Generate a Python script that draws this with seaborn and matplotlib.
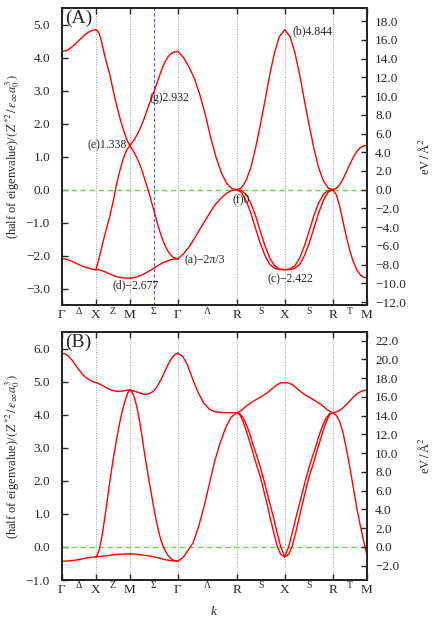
import numpy as np
import pandas as pd
import matplotlib
matplotlib.use('Agg')
import matplotlib.pyplot as plt
import seaborn as sns

# high-symmetry path of the simple cubic zone, k in units of 2pi/a
sym_k = [0.0, 0.5, 1.0, 1.7071, 2.5731, 3.2802, 3.9873, 4.4873]
sym_labels = ['Γ', 'X', 'M', 'Γ', 'R', 'X', 'R', 'M']
seg_labels = ['Δ', 'Z', 'Σ', 'Λ', 'S', 'S', 'T']
to_ev = 3.525  # eV/Å^2 per unit of Z*^2/(eps a0^3)

# k grids per segment
k_gx = [0.0, 0.05, 0.1, 0.15, 0.2, 0.25, 0.3, 0.35, 0.4, 0.45, 0.5]
k_xm = [0.5, 0.525, 0.55, 0.575, 0.6, 0.625, 0.65, 0.675, 0.7, 0.725, 0.75, 0.775, 0.8, 0.825,
        0.85, 0.875, 0.9, 0.925, 0.95, 0.975, 1.0]
k_mg = [1.0, 1.035, 1.07, 1.105, 1.14, 1.175, 1.21, 1.245, 1.28, 1.315, 1.35, 1.385, 1.42, 1.455,
        1.49, 1.525, 1.56, 1.595, 1.63, 1.67, 1.7071]
k_gr = [1.7071, 1.79, 1.87, 1.95, 2.03, 2.11, 2.19, 2.27, 2.35, 2.43, 2.50, 2.5731]
k_rx = [2.5731, 2.64, 2.71, 2.78, 2.85, 2.92, 2.99, 3.06, 3.13, 3.20, 3.2802]
k_xr = [3.2802, 3.3604, 3.4304, 3.5004, 3.5704, 3.6404, 3.7104, 3.7804, 3.8504, 3.9204, 3.9873]
k_rm = [3.9873, 4.04, 4.09, 4.14, 4.19, 4.24, 4.29, 4.34, 4.39, 4.44, 4.4873]

kb_gr = [1.7071, 1.78, 1.85, 1.93, 2.01, 2.09, 2.17, 2.25, 2.33, 2.41, 2.49, 2.5731]
kb_rx = [2.5731, 2.62, 2.67, 2.72, 2.77, 2.82, 2.87, 2.92, 2.97, 3.02, 3.07, 3.12, 3.17, 3.22, 3.2802]
kb_xr = [3.2802, 3.3404, 3.3904, 3.4404, 3.4904, 3.5404, 3.5904, 3.6404, 3.6904, 3.7404, 3.7904,
         3.8404, 3.8904, 3.9404, 3.9873]

# ---- panel (A)
a_gx_top = [4.189, 4.20, 4.25, 4.33, 4.42, 4.52, 4.62, 4.71, 4.78, 4.83, 4.844]
a_gx_low = [-2.094, -2.10, -2.13, -2.17, -2.22, -2.27, -2.31, -2.35, -2.38, -2.41, -2.422]
a_xm_top = [4.844, 4.81, 4.72, 4.56, 4.33, 4.11, 3.90, 3.71, 3.53, 3.29, 3.05, 2.82, 2.60, 2.40,
            2.20, 2.02, 1.85, 1.70, 1.55, 1.43, 1.338]
a_xm_mid = [-2.422, -2.24, -2.05, -1.84, -1.62, -1.42, -1.22, -1.03, -0.85, -0.62, -0.40, -0.14,
            0.12, 0.34, 0.55, 0.74, 0.92, 1.06, 1.18, 1.27, 1.338]
a_xm_low = [-2.422, -2.424, -2.43, -2.443, -2.46, -2.48, -2.50, -2.525, -2.55, -2.57, -2.59, -2.61,
            -2.63, -2.643, -2.655, -2.663, -2.67, -2.674, -2.676, -2.677, -2.677]
a_mg_up = [1.338, 1.43, 1.53, 1.66, 1.80, 1.97, 2.15, 2.36, 2.57, 2.75, 2.93, 3.14, 3.35, 3.56,
           3.75, 3.90, 4.02, 4.10, 4.15, 4.18, 4.189]
a_mg_dn = [1.338, 1.23, 1.10, 0.96, 0.80, 0.60, 0.38, 0.15, -0.08, -0.34, -0.60, -0.86, -1.12,
           -1.35, -1.55, -1.72, -1.86, -1.96, -2.03, -2.08, -2.094]
a_mg_low = [-2.677, -2.672, -2.66, -2.64, -2.61, -2.58, -2.55, -2.51, -2.47, -2.425, -2.38, -2.335,
            -2.29, -2.25, -2.21, -2.18, -2.15, -2.13, -2.11, -2.098, -2.094]
a_gr_top = [4.189, 4.00, 3.72, 3.37, 2.88, 2.28, 1.58, 0.98, 0.50, 0.18, 0.04, 0.0]
a_gr_low = [-2.094, -1.94, -1.74, -1.48, -1.20, -0.93, -0.66, -0.42, -0.24, -0.10, -0.02, 0.0]
a_rx_top = [0.0, 0.05, 0.27, 0.66, 1.25, 1.95, 2.70, 3.48, 4.15, 4.63, 4.844]
a_rx_l1 = [0.0, -0.07, -0.32, -0.70, -1.17, -1.62, -2.00, -2.26, -2.38, -2.415, -2.422]
a_rx_l2 = [0.0, -0.02, -0.14, -0.40, -0.78, -1.25, -1.70, -2.07, -2.30, -2.40, -2.422]
a_xr_top = [4.844, 4.63, 4.15, 3.48, 2.70, 1.95, 1.25, 0.66, 0.27, 0.05, 0.0]
a_xr_l1 = [-2.422, -2.415, -2.38, -2.26, -2.00, -1.62, -1.17, -0.70, -0.32, -0.07, 0.0]
a_xr_l2 = [-2.422, -2.40, -2.30, -2.07, -1.70, -1.25, -0.78, -0.40, -0.14, -0.02, 0.0]
a_rm_up = [0.0, 0.04, 0.15, 0.33, 0.55, 0.77, 0.98, 1.15, 1.27, 1.33, 1.338]
a_rm_dn = [0.0, -0.15, -0.50, -0.98, -1.45, -1.85, -2.18, -2.42, -2.57, -2.65, -2.677]

# ---- panel (B)
b_gx_top = [5.86, 5.84, 5.76, 5.65, 5.50, 5.36, 5.23, 5.13, 5.06, 5.00, 4.97]
b_gx_low = [-0.43, -0.43, -0.42, -0.41, -0.40, -0.38, -0.36, -0.34, -0.32, -0.31, -0.30]
b_xm_top = [4.97, 4.955, 4.93, 4.905, 4.88, 4.85, 4.82, 4.795, 4.77, 4.75, 4.73, 4.72, 4.71, 4.705,
            4.71, 4.715, 4.72, 4.73, 4.74, 4.745, 4.75]
b_xm_mid = [-0.30, -0.22, -0.08, 0.17, 0.45, 0.80, 1.15, 1.52, 1.90, 2.25, 2.60, 2.90, 3.20, 3.48,
            3.75, 3.99, 4.20, 4.39, 4.55, 4.68, 4.75]
b_xm_low = [-0.30, -0.295, -0.29, -0.285, -0.28, -0.275, -0.27, -0.262, -0.255, -0.247, -0.24,
            -0.235, -0.23, -0.225, -0.22, -0.217, -0.215, -0.212, -0.21, -0.21, -0.21]
b_mg_up = [4.75, 4.73, 4.71, 4.685, 4.66, 4.64, 4.62, 4.615, 4.64, 4.67, 4.72, 4.80, 4.92, 5.05,
           5.20, 5.35, 5.50, 5.64, 5.75, 5.83, 5.86]
b_mg_dn = [4.75, 4.68, 4.50, 4.22, 3.85, 3.40, 2.92, 2.47, 2.03, 1.62, 1.22, 0.84, 0.50, 0.22,
           0.02, -0.13, -0.25, -0.33, -0.39, -0.42, -0.43]
b_mg_low = [-0.21, -0.212, -0.215, -0.22, -0.23, -0.24, -0.25, -0.26, -0.27, -0.285, -0.30, -0.315,
            -0.33, -0.35, -0.37, -0.385, -0.40, -0.41, -0.42, -0.427, -0.43]
b_gr_top = [5.86, 5.76, 5.50, 5.05, 4.65, 4.35, 4.17, 4.09, 4.07, 4.06, 4.06, 4.06]
b_gr_low = [-0.43, -0.33, -0.12, 0.12, 0.60, 1.20, 1.90, 2.60, 3.15, 3.60, 3.92, 4.06]
b_rx_top = [4.06, 4.10, 4.18, 4.27, 4.34, 4.41, 4.47, 4.53, 4.59, 4.66, 4.74, 4.83, 4.91, 4.96, 4.97]
b_rx_l1 = [4.06, 4.00, 3.78, 3.48, 3.14, 2.80, 2.45, 2.13, 1.72, 1.30, 0.85, 0.42, 0.02, -0.22, -0.30]
b_rx_l2 = [4.06, 4.03, 3.90, 3.68, 3.40, 3.05, 2.75, 2.42, 2.05, 1.65, 1.25, 0.85, 0.42, 0.02, -0.30]
b_xr_top = [4.97, 4.96, 4.91, 4.83, 4.74, 4.66, 4.59, 4.53, 4.47, 4.41, 4.34, 4.27, 4.18, 4.10, 4.06]
b_xr_l1 = [-0.30, -0.22, 0.02, 0.42, 0.85, 1.30, 1.72, 2.13, 2.45, 2.80, 3.14, 3.48, 3.78, 4.00, 4.06]
b_xr_l2 = [-0.30, 0.02, 0.42, 0.85, 1.25, 1.65, 2.05, 2.42, 2.75, 3.05, 3.40, 3.68, 3.90, 4.03, 4.06]
b_rm_up = [4.06, 4.08, 4.13, 4.21, 4.31, 4.42, 4.53, 4.62, 4.69, 4.73, 4.75]
b_rm_dn = [4.06, 3.98, 3.80, 3.45, 2.95, 2.40, 1.80, 1.20, 0.68, 0.20, -0.21]

bands_a = [(k_gx, a_gx_top), (k_gx, a_gx_low), (k_xm, a_xm_top), (k_xm, a_xm_mid), (k_xm, a_xm_low),
           (k_mg, a_mg_up), (k_mg, a_mg_dn), (k_mg, a_mg_low), (k_gr, a_gr_top), (k_gr, a_gr_low),
           (k_rx, a_rx_top), (k_rx, a_rx_l1), (k_rx, a_rx_l2), (k_xr, a_xr_top), (k_xr, a_xr_l1),
           (k_xr, a_xr_l2), (k_rm, a_rm_up), (k_rm, a_rm_dn)]
bands_b = [(k_gx, b_gx_top), (k_gx, b_gx_low), (k_xm, b_xm_top), (k_xm, b_xm_mid), (k_xm, b_xm_low),
           (k_mg, b_mg_up), (k_mg, b_mg_dn), (k_mg, b_mg_low), (kb_gr, b_gr_top), (kb_gr, b_gr_low),
           (kb_rx, b_rx_top), (kb_rx, b_rx_l1), (kb_rx, b_rx_l2), (kb_xr, b_xr_top), (kb_xr, b_xr_l1),
           (kb_xr, b_xr_l2), (k_rm, b_rm_up), (k_rm, b_rm_dn)]

# annotations in panel (A): (text, k, value, ha)
notes_a = [('(b)4.844', 3.40, 4.79, 'left'), ('(g)2.932', 1.296, 2.79, 'left'),
           ('(e)1.338', 0.957, 1.33, 'right'), ('(f)0', 2.518, -0.33, 'left'),
           ('(a)−2π/3', 1.811, -2.15, 'left'), ('(d)−2.677', 0.751, -2.91, 'left'),
           ('(c)−2.422', 3.034, -2.70, 'left')]

sns.set_theme(style='ticks')
plt.rcParams['font.family'] = ['Liberation Serif', 'DejaVu Serif']
plt.rcParams['mathtext.fontset'] = 'stix'
plt.rcParams['axes.unicode_minus'] = True

fig = plt.figure(figsize=(4.36, 6.23), dpi=100)
ax_a = fig.add_axes([0.142, 0.510, 0.699, 0.477])
ax_b = fig.add_axes([0.142, 0.069, 0.699, 0.398])


def draw_panel(ax, bands, ylim, yticks, evticks, tag, sigma_line):
    df = pd.concat([pd.DataFrame({'k': k, 'v': v, 'band': i}) for i, (k, v) in enumerate(bands)],
                   ignore_index=True)
    for k in sym_k[1:-1]:
        ax.axvline(k, color='#9a9a9a', ls=(0, (1, 1.6)), lw=0.7, zorder=0)
    if sigma_line:
        ax.axvline((sym_k[2] + sym_k[3]) / 2, color='#5a5af0', ls=(0, (3, 2)), lw=0.8, zorder=0)
    ax.axhline(0, color='#66dd44', ls=(0, (4, 2.5)), lw=1.0, zorder=1)
    sns.lineplot(data=df, x='k', y='v', units='band', estimator=None, sort=False,
                 color='#ff0000', lw=1.0, ax=ax, legend=False, zorder=3)
    ax.set_xlim(sym_k[0], sym_k[-1])
    ax.set_ylim(*ylim)
    ax.set_xlabel('')
    ax.set_ylabel('')
    ax.set_xticks(sym_k)
    ax.set_xticklabels(sym_labels)
    ax.set_yticks(yticks)
    ax.yaxis.set_major_formatter('{x:.1f}')
    ax.tick_params(axis='x', direction='in', top=True, length=4, width=1, pad=3, labelsize=9.5)
    ax.tick_params(axis='y', direction='in', length=4, width=1, pad=8.5, labelsize=9.5)
    for s in ax.spines.values():
        s.set_linewidth(1.2)
        s.set_color('black')
    for i, lab in enumerate(seg_labels):
        mid = (sym_k[i] + sym_k[i + 1]) / 2
        ax.text(mid, -0.022, lab, transform=ax.get_xaxis_transform(), ha='center', va='center',
                fontsize=7)
    ax.text(0.012, 0.995, tag, transform=ax.transAxes, ha='left', va='top', fontsize=14)

    ax2 = ax.twinx()
    ax2.set_ylim(ylim[0] * to_ev, ylim[1] * to_ev)
    ax2.set_yticks(evticks)
    ax2.yaxis.set_major_formatter('{x:.1f}')
    ax2.tick_params(axis='y', direction='in', length=4, width=1, pad=6, labelsize=9.5)
    ax2.grid(False)
    for s in ax2.spines.values():
        s.set_linewidth(1.2)


draw_panel(ax_a, bands_a, (-3.5, 5.5), [-3, -2, -1, 0, 1, 2, 3, 4, 5],
           list(range(-12, 19, 2)), '(A)', True)
draw_panel(ax_b, bands_b, (-1.0, 6.5), [-1, 0, 1, 2, 3, 4, 5, 6],
           list(range(-2, 23, 2)), '(B)', False)

for txt, kx, vy, ha in notes_a:
    ax_a.text(kx, vy, txt, ha=ha, va='center', fontsize=8.5, zorder=5)

ylab = r'(half of eigenvalue)/$(\,Z^{*2}\,/\,\epsilon_{\infty}a_0^{3}\,)$'
for ax in (ax_a, ax_b):
    pos = ax.get_position()
    yc = (pos.y0 + pos.y1) / 2
    fig.text(0.03, yc, ylab, rotation=90, ha='center', va='center', fontsize=9)
    fig.text(0.975, yc, r'eV$\,/\,$Å$^2$', rotation=90, ha='center', va='center', fontsize=9)

fig.text(0.489, 0.018, 'k', style='italic', ha='center', va='center', fontsize=9.5)

fig.savefig('out.png', dpi=100)
